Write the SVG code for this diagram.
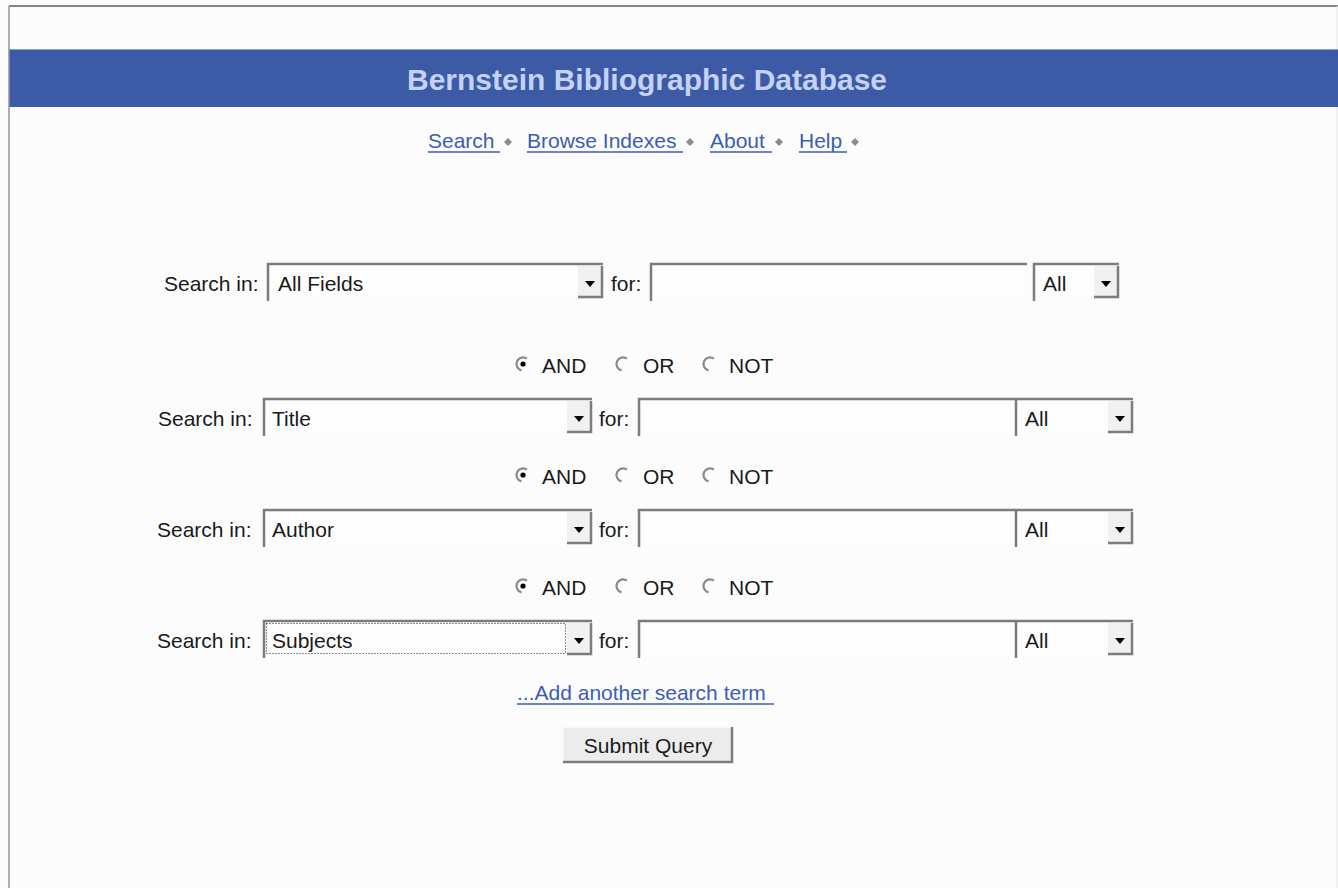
<svg xmlns="http://www.w3.org/2000/svg" width="1338" height="888" viewBox="0 0 1338 888">
<style>
  text { font-family: "Liberation Sans", Arial, sans-serif; }
  .lbl { font-size: 21px; fill: #1a1a1a; }
  .link { font-size: 21px; fill: #3b5cb8; }
  .ul { stroke: #3b5cb8; stroke-width: 1.6; }
  .title { font-size: 30px; font-weight: bold; fill: #c3d2f5; }
  .field { fill: #fdfdfd; }
  .sunk { fill: none; stroke: #7c7c7c; stroke-width: 2.5; }
  .btn { fill: #f1f1f1; }
  .raise { fill: none; stroke: #7c7c7c; stroke-width: 2.5; }
  .arrow { fill: #000; }
  .radio { fill: none; stroke: #8a8a8a; stroke-width: 2.2; }
  .dot { fill: #000; }
  .dia { fill: #8c8c8c; }
</style>
<defs>
  <path id="rad" class="radio" d="M4 -5.3 A6.6 6.6 0 1 0 -1.5 6.4"/>
</defs>
<rect x="0" y="0" width="1338" height="888" fill="#fcfcfc"/>
<g id="frame">
  <line x1="9" y1="6" x2="1338" y2="6" stroke="#111" stroke-width="1.2"/>
  <line x1="9" y1="6" x2="9" y2="888" stroke="#777" stroke-width="1.2"/>
  <line x1="1337" y1="6" x2="1337" y2="888" stroke="#e4e4e4" stroke-width="1"/>
</g>
<g id="header">
  <rect x="9.6" y="49" width="1328.4" height="58" fill="#3d5aa6"/>
  <line x1="9.6" y1="49.5" x2="1338" y2="49.5" stroke="#8fa0cf" stroke-width="1"/>
  <text class="title" x="647" y="90" text-anchor="middle" textLength="480">Bernstein Bibliographic Database</text>
</g>
<g id="nav">
  <text class="link" x="428" y="148">Search</text>
  <line class="ul" x1="428" y1="152" x2="500" y2="152"/>
  <path class="dia" d="M508 138 L512 142 L508 146 L504 142 Z"/>
  <text class="link" x="527" y="148">Browse Indexes</text>
  <line class="ul" x1="527" y1="152" x2="683" y2="152"/>
  <path class="dia" d="M690 138 L694 142 L690 146 L686 142 Z"/>
  <text class="link" x="710" y="148">About</text>
  <line class="ul" x1="710" y1="152" x2="772" y2="152"/>
  <path class="dia" d="M779 138 L783 142 L779 146 L775 142 Z"/>
  <text class="link" x="799" y="148">Help</text>
  <line class="ul" x1="799" y1="152" x2="847" y2="152"/>
  <path class="dia" d="M855 138 L859 142 L855 146 L851 142 Z"/>
</g>
<g id="row1">
  <text class="lbl" x="164" y="291">Search in:</text>
  <rect class="field" x="267" y="263" width="336" height="38"/>
  <path class="sunk" d="M268 301 V264 H603"/>
  <text class="lbl" x="278" y="291">All Fields</text>
  <rect class="btn" x="578" y="266" width="24" height="31"/>
  <path class="raise" d="M602 266 V297 H578"/>
  <path class="arrow" d="M585 281 H595 L590 287 Z"/>
  <text class="lbl" x="611" y="291">for:</text>
  <rect class="field" x="650" y="263" width="377" height="38"/>
  <path class="sunk" d="M651 301 V264 H1027"/>
  <rect class="field" x="1033" y="263" width="86" height="38"/>
  <path class="sunk" d="M1034 301 V264 H1119"/>
  <text class="lbl" x="1043" y="291">All</text>
  <rect class="btn" x="1094" y="266" width="24" height="31"/>
  <path class="raise" d="M1118 266 V297 H1094"/>
  <path class="arrow" d="M1101 281 H1111 L1106 287 Z"/>
</g>
<g id="op1">
  <use href="#rad" x="523" y="364"/>
  <circle class="dot" cx="523" cy="364" r="2.6"/>
  <text class="lbl" x="542" y="373">AND</text>
  <use href="#rad" x="623" y="364"/>
  <text class="lbl" x="643" y="373">OR</text>
  <use href="#rad" x="710" y="364"/>
  <text class="lbl" x="729" y="373">NOT</text>
</g>
<g id="row2">
  <text class="lbl" x="158" y="426">Search in:</text>
  <rect class="field" x="263" y="398" width="329" height="38"/>
  <path class="sunk" d="M264 436 V399 H592"/>
  <text class="lbl" x="272" y="426">Title</text>
  <rect class="btn" x="567" y="401" width="24" height="31"/>
  <path class="raise" d="M591 401 V432 H567"/>
  <path class="arrow" d="M574 416 H584 L579 422 Z"/>
  <text class="lbl" x="599" y="426">for:</text>
  <rect class="field" x="638" y="398" width="377" height="38"/>
  <path class="sunk" d="M639 436 V399 H1015"/>
  <rect class="field" x="1015" y="398" width="118" height="38"/>
  <path class="sunk" d="M1016 436 V399 H1133"/>
  <text class="lbl" x="1025" y="426">All</text>
  <rect class="btn" x="1108" y="401" width="24" height="31"/>
  <path class="raise" d="M1132 401 V432 H1108"/>
  <path class="arrow" d="M1115 416 H1125 L1120 422 Z"/>
</g>
<g id="op2">
  <use href="#rad" x="523" y="475"/>
  <circle class="dot" cx="523" cy="475" r="2.6"/>
  <text class="lbl" x="542" y="484">AND</text>
  <use href="#rad" x="623" y="475"/>
  <text class="lbl" x="643" y="484">OR</text>
  <use href="#rad" x="710" y="475"/>
  <text class="lbl" x="729" y="484">NOT</text>
</g>
<g id="row3">
  <text class="lbl" x="157" y="537">Search in:</text>
  <rect class="field" x="263" y="509" width="329" height="38"/>
  <path class="sunk" d="M264 547 V510 H592"/>
  <text class="lbl" x="272" y="537">Author</text>
  <rect class="btn" x="567" y="512" width="24" height="31"/>
  <path class="raise" d="M591 512 V543 H567"/>
  <path class="arrow" d="M574 527 H584 L579 533 Z"/>
  <text class="lbl" x="599" y="537">for:</text>
  <rect class="field" x="638" y="509" width="377" height="38"/>
  <path class="sunk" d="M639 547 V510 H1015"/>
  <rect class="field" x="1015" y="509" width="118" height="38"/>
  <path class="sunk" d="M1016 547 V510 H1133"/>
  <text class="lbl" x="1025" y="537">All</text>
  <rect class="btn" x="1108" y="512" width="24" height="31"/>
  <path class="raise" d="M1132 512 V543 H1108"/>
  <path class="arrow" d="M1115 527 H1125 L1120 533 Z"/>
</g>
<g id="op3">
  <use href="#rad" x="523" y="586"/>
  <circle class="dot" cx="523" cy="586" r="2.6"/>
  <text class="lbl" x="542" y="595">AND</text>
  <use href="#rad" x="623" y="586"/>
  <text class="lbl" x="643" y="595">OR</text>
  <use href="#rad" x="710" y="586"/>
  <text class="lbl" x="729" y="595">NOT</text>
</g>
<g id="row4">
  <text class="lbl" x="157" y="648">Search in:</text>
  <rect class="field" x="263" y="620" width="329" height="38"/>
  <path class="sunk" d="M264 658 V621 H592"/>
  <rect x="266.5" y="623.5" width="299" height="30" fill="none" stroke="#222" stroke-width="1" stroke-dasharray="1 2"/>
  <text class="lbl" x="272" y="648">Subjects</text>
  <rect class="btn" x="567" y="623" width="24" height="31"/>
  <path class="raise" d="M591 623 V654 H567"/>
  <path class="arrow" d="M574 638 H584 L579 644 Z"/>
  <text class="lbl" x="599" y="648">for:</text>
  <rect class="field" x="638" y="620" width="377" height="38"/>
  <path class="sunk" d="M639 658 V621 H1015"/>
  <rect class="field" x="1015" y="620" width="118" height="38"/>
  <path class="sunk" d="M1016 658 V621 H1133"/>
  <text class="lbl" x="1025" y="648">All</text>
  <rect class="btn" x="1108" y="623" width="24" height="31"/>
  <path class="raise" d="M1132 623 V654 H1108"/>
  <path class="arrow" d="M1115 638 H1125 L1120 644 Z"/>
</g>
<g id="add-term">
  <text class="link" x="517" y="700">...Add another search term</text>
  <line class="ul" x1="517" y1="704" x2="774" y2="704"/>
</g>
<g id="submit">
  <rect x="563" y="727" width="170" height="36" fill="#ececec"/>
  <path d="M563 763 V727 H733" fill="none" stroke="#f8f8f8" stroke-width="2"/>
  <path d="M732 727 V762 H563" fill="none" stroke="#7c7c7c" stroke-width="2.5"/>
  <text class="lbl" x="648" y="753" text-anchor="middle">Submit Query</text>
</g>
<g id="connectors"></g>
</svg>
